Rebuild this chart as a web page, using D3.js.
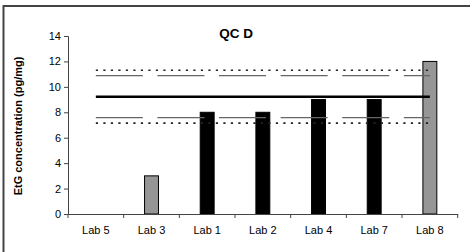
<!DOCTYPE html>
<html>
<head>
<meta charset="utf-8">
<script src="https://cdn.jsdelivr.net/npm/d3@7"></script>
<style>
html,body{margin:0;padding:0;background:#fff;overflow:hidden;}
svg{display:block;}
text{font-family:"Liberation Sans", Arial, sans-serif;}
</style>
</head>
<body>
<svg id="c" width="470" height="252"></svg>
<script>
const categories = ["Lab 5","Lab 3","Lab 1","Lab 2","Lab 4","Lab 7","Lab 8"];
const values = [null, 3, 8, 8, 9, 9, 12];
const barColors = ["#969696","#969696","#000000","#000000","#000000","#000000","#969696"];
const yTicks = [0,2,4,6,8,10,12,14];
const meanValue = 9.23;
const innerLimits = [10.88, 7.58];
const outerLimits = [11.31, 7.15];
const title = "QC D";
const yLabel = "EtG concentration (pg/mg)";

const svg = d3.select("#c");
// outer frame: only top and left edges visible in view
svg.append("line").attr("x1",3.5).attr("x2",470).attr("y1",6).attr("y2",6)
  .attr("stroke","#444").attr("stroke-width",2);
svg.append("line").attr("x1",3.5).attr("x2",3.5).attr("y1",5).attr("y2",252)
  .attr("stroke","#444").attr("stroke-width",2);

const x = d3.scaleBand().domain(categories).range([68,457.7]).padding(0);
const y = d3.scaleLinear().domain([0,14]).range([214,36]);

// bars
const bw = x.bandwidth()*0.25;
svg.append("g").selectAll("rect").data(categories.map((c,i)=>({c,v:values[i],col:barColors[i]})).filter(d=>d.v!=null))
  .join("rect")
  .attr("x",d=>x(d.c)+x.bandwidth()/2-bw/2)
  .attr("y",d=>y(d.v))
  .attr("width",bw)
  .attr("height",d=>y(0)-y(d.v))
  .attr("fill",d=>d.col)
  .attr("stroke","#000").attr("stroke-width",1);

// reference lines
const x0 = x(categories[0])+x.bandwidth()/2;
const x1 = x(categories[categories.length-1])+x.bandwidth()/2;
function hline(v, stroke, width, dash){
  svg.append("line").attr("x1",x0).attr("x2",x1).attr("y1",y(v)).attr("y2",y(v))
    .attr("stroke",stroke).attr("stroke-width",width).attr("stroke-dasharray",dash);
}
outerLimits.forEach(v=>hline(v,"#222",1.6,"2.2,5.3"));
innerLimits.forEach(v=>hline(v,"#666",1.4,"47,14.6"));
hline(meanValue,"#000",2.5,null);

// axes
const yAxis = svg.append("g").attr("transform","translate(68,0)")
  .call(d3.axisLeft(y).tickValues(yTicks).tickSize(4).tickPadding(3));
const xAxis = svg.append("g").attr("transform","translate(0,214)")
  .call(d3.axisBottom(x).tickSize(0).tickPadding(12));
// category boundary ticks
svg.append("g").selectAll("line").data(d3.range(categories.length+1)).join("line")
  .attr("x1",i=>68+i*x.bandwidth()).attr("x2",i=>68+i*x.bandwidth())
  .attr("y1",214).attr("y2",218).attr("stroke","#444").attr("stroke-width",1);
[yAxis,xAxis].forEach(g=>{
  g.select(".domain").attr("stroke","#444");
  g.selectAll(".tick line").attr("stroke","#444");
  g.selectAll("text").attr("font-size","11px").attr("fill","#000")
    .attr("font-family",'"Liberation Sans", Arial, sans-serif');
});

svg.append("text").attr("x",236).attr("y",38).attr("text-anchor","middle")
  .attr("font-size","13.5px").attr("font-weight","bold").text(title);
svg.append("text").attr("transform","translate(22,126) rotate(-90)").attr("text-anchor","middle")
  .attr("font-size","11px").attr("font-weight","bold").text(yLabel);
</script>
</body>
</html>
